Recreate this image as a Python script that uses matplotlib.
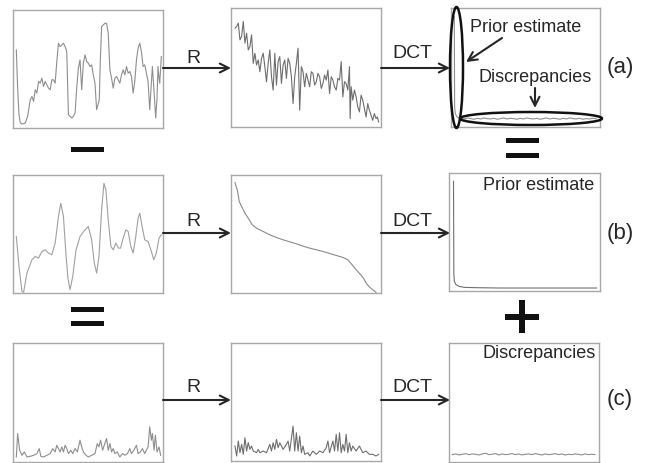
import matplotlib
matplotlib.use("Agg")
import matplotlib.pyplot as plt
from matplotlib.patches import Ellipse, Rectangle

plt.rcParams['font.family'] = ['Liberation Sans', 'DejaVu Sans']

# ---- signals (sample position, amplitude) ----
# row (a): original signal, reordered signal, its DCT
a1_t = [10, 14, 18, 22, 28, 37, 44, 52, 57, 62,
        67, 72, 77, 82, 87, 92, 97, 102, 107, 112,
        117, 122, 127, 132, 137, 142, 147, 152, 157, 162,
        167, 172, 177, 182, 187, 192, 197, 202, 207, 212,
        217, 222, 227, 232, 237, 242, 247, 252, 256, 260,
        263, 267, 272, 277, 282, 287, 292, 297, 302, 307,
        312, 317, 322, 327, 332, 337, 342, 347, 352, 357,
        362, 367, 372, 377, 382, 387, 392, 397, 402, 407,
        412, 416, 420, 425, 430, 434, 437, 440, 442, 445, 447]
a1_v = [235, 120, 40, 15, 12, 15, 35, 85, 95, 80,
        115, 105, 140, 135, 150, 125, 140, 130, 120, 115,
        145, 145, 135, 200, 255, 245, 250, 255, 245, 230,
        40, 35, 30, 35, 45, 120, 180, 205, 115, 195,
        220, 200, 195, 185, 190, 160, 135, 55, 70, 85,
        200, 305, 310, 315, 315, 285, 175, 150, 120, 150,
        155, 145, 135, 160, 175, 160, 185, 165, 170, 155,
        105, 140, 205, 240, 255, 230, 185, 190, 165, 140,
        55, 120, 185, 110, 30, 90, 185, 150, 135, 180, 215]

a2_t = [12, 17, 22, 27, 32, 37, 42, 47, 52, 57,
        62, 67, 72, 77, 82, 87, 92, 97, 102, 107,
        112, 117, 122, 127, 132, 137, 142, 147, 152, 157,
        162, 167, 172, 177, 182, 187, 192, 197, 202, 207,
        212, 217, 222, 227, 232, 237, 242, 247, 252, 257,
        262, 267, 272, 277, 282, 287, 292, 297, 302, 307,
        312, 317, 322, 327, 332, 337, 342, 347, 352, 357,
        359, 362, 367, 372, 377, 382, 387, 392, 397, 402,
        407, 412, 417, 422, 427, 432, 437, 441, 445]
a2_v = [295, 300, 310, 260, 270, 315, 250, 280, 230, 240,
        275, 190, 220, 185, 200, 165, 205, 220, 180, 135,
        190, 230, 150, 110, 220, 125, 195, 210, 130, 185,
        200, 145, 205, 190, 150, 70, 150, 190, 235, 50,
        180, 165, 120, 160, 140, 120, 165, 160, 125, 135,
        160, 150, 115, 130, 155, 140, 170, 100, 150, 140,
        120, 110, 145, 140, 195, 90, 135, 130, 110, 180,
        25, 120, 80, 110, 90, 60, 45, 95, 80, 55,
        30, 70, 50, 35, 20, 40, 25, 30, 15]

a3_t = [10, 11, 13, 18, 30, 40, 50, 60, 70, 80, 90, 100, 110, 120, 130,
        140, 150, 160, 170, 180, 190, 200, 210, 220, 230, 240, 250, 260,
        270, 280, 290, 300, 310, 320, 330, 340, 350, 360, 370, 380, 390,
        400, 410, 420, 430, 440]
a3_v = [330, 60, 40, 30, 26, 24, 27, 25, 23, 26, 24, 27, 25, 24, 26,
        23, 25, 27, 24, 26, 25, 23, 26, 24, 27, 25, 24, 26, 23, 25, 27,
        24, 26, 25, 23, 26, 24, 27, 25, 24, 26, 23, 25, 24, 26, 25]

# row (b): smooth prior, reordered prior, its DCT
b1_t = [10, 18, 27, 32, 42, 57, 67, 77, 87, 97,
        107, 117, 127, 137, 144, 152, 160, 166, 172, 180,
        190, 202, 217, 227, 237, 245, 252, 259, 267, 274,
        280, 287, 295, 302, 310, 318, 324, 332, 340, 347,
        355, 362, 370, 377, 382, 389, 397, 407, 417, 424,
        432, 440, 447]
b1_v = [170, 80, 5, 2, 60, 100, 110, 105, 125, 130,
        120, 115, 150, 230, 270, 230, 110, 40, 10, 50,
        130, 170, 190, 200, 160, 90, 60, 110, 250, 330,
        310, 220, 140, 130, 150, 135, 135, 165, 190, 185,
        140, 120, 170, 225, 240, 200, 160, 155, 125, 100,
        120, 165, 175]

b2_t = [12, 19, 25, 32, 42, 52, 64, 77, 97, 117, 137, 157, 177, 197, 217,
        237, 257, 277, 297, 317, 337, 352, 365, 377, 389, 399, 407, 417,
        427, 437]
b2_v = [332, 310, 275, 260, 240, 225, 205, 195, 185, 175, 167, 160, 154,
        148, 141, 135, 130, 125, 119, 113, 107, 100, 85, 70, 57, 45, 30,
        18, 10, 2]

b3_t = [13.5, 14.5, 16, 20, 30, 45, 80, 150, 250, 350, 442]
b3_v = [330, 50, 30, 20, 14, 11, 10, 9, 9, 9, 9]

# row (c): discrepancies, reordered discrepancies, their DCT
c1_t = [10, 14, 20, 27, 34, 42, 52, 62, 72, 79,
        84, 92, 102, 112, 120, 127, 132, 137, 142, 147,
        152, 157, 162, 167, 174, 180, 187, 194, 202, 207,
        212, 220, 227, 237, 247, 254, 259, 264, 270, 275,
        282, 287, 292, 297, 302, 307, 314, 322, 330, 337,
        345, 352, 357, 364, 372, 377, 384, 390, 397, 402,
        407, 412, 417, 420, 425, 429, 434, 440, 445]
c1_v = [15, 85, 35, 20, 30, 15, 17, 20, 25, 40,
        17, 15, 20, 25, 40, 30, 50, 40, 30, 45,
        30, 50, 40, 25, 35, 25, 40, 30, 65, 45,
        30, 20, 15, 20, 25, 55, 45, 65, 35, 50,
        70, 35, 55, 30, 40, 25, 30, 15, 25, 20,
        25, 40, 25, 35, 50, 25, 30, 40, 25, 35,
        45, 105, 65, 85, 35, 80, 30, 45, 20]

c2_t = [12, 17, 22, 27, 32, 37, 42, 47, 52, 57,
        62, 67, 77, 82, 87, 97, 107, 117, 122, 127,
        132, 137, 142, 147, 157, 167, 172, 177, 187, 192,
        197, 202, 207, 212, 217, 222, 232, 237, 247, 257,
        267, 277, 287, 292, 297, 307, 312, 317, 322, 327,
        332, 337, 342, 347, 352, 357, 362, 367, 377, 387,
        397, 407, 417, 427, 437, 445]
c2_v = [45, 15, 60, 25, 50, 20, 70, 30, 55, 35,
        45, 30, 25, 35, 25, 30, 25, 50, 30, 55,
        35, 65, 40, 55, 35, 50, 60, 30, 105, 30,
        85, 30, 75, 25, 45, 20, 25, 15, 30, 20,
        30, 25, 40, 60, 25, 60, 30, 80, 30, 85,
        25, 50, 30, 80, 25, 55, 30, 45, 30, 45,
        25, 30, 20, 20, 15, 20]

c3_t = [10, 20, 30, 40, 50, 60, 70, 80, 90, 100, 110, 120, 130, 140, 150,
        160, 170, 180, 190, 200, 210, 220, 230, 240, 250, 260, 270, 280,
        290, 300, 310, 320, 330, 340, 350, 360, 370, 380, 390, 400, 410,
        420, 430, 440]
c3_v = [22, 24, 21, 23, 25, 22, 24, 23, 21, 24,
        26, 22, 23, 25, 21, 24, 22, 23, 25, 22,
        24, 21, 23, 24, 22, 25, 23, 21, 24, 22,
        23, 25, 22, 24, 21, 23, 22, 24, 23, 21,
        24, 22, 23, 22]

row_labels = ['(a)', '(b)', '(c)']

# ---- layout (pixels) ----
W, H = 649, 463
fig = plt.figure(figsize=(W / 100, H / 100), dpi=100)
fig.patch.set_facecolor('white')


def panel(box, t, v, color='#8e8e8e'):
    x0, y0, x1, y1 = box
    ax = fig.add_axes([x0 / W, 1 - y1 / H, (x1 - x0) / W, (y1 - y0) / H])
    ax.plot(t, v, color=color, lw=0.8)
    ax.set_xlim(0, 452)
    ax.set_ylim(0, 355)
    ax.set_xticks([])
    ax.set_yticks([])
    for s in ax.spines.values():
        s.set_color('#a8a8a8')
        s.set_linewidth(1.0)
    return ax


panel((13, 10, 163, 128), a1_t, a1_v)
panel((231, 8, 381, 127), a2_t, a2_v, '#6e6e6e')
panel((451, 8, 600, 127), a3_t, a3_v)
panel((13, 175, 163, 293), b1_t, b1_v, '#a0a0a0')
panel((231, 175, 381, 293), b2_t, b2_v, '#8a8a8a')
panel((449, 173, 600, 291), b3_t, b3_v, '#707070')
panel((13, 343, 163, 462), c1_t, c1_v)
panel((231, 343, 381, 461), c2_t, c2_v, '#6e6e6e')
panel((449, 343, 599, 462), c3_t, c3_v)

# overlay in pixel coordinates
ov = fig.add_axes([0, 0, 1, 1])
ov.set_xlim(0, W)
ov.set_ylim(H, 0)
ov.axis('off')
ov.patch.set_alpha(0)

ink = '#262626'
arrow = dict(arrowstyle='->', lw=1.5, color=ink, shrinkA=0, shrinkB=0,
             mutation_scale=16)

for ya, yr, yd, lab in [(68, 58.5, 53, row_labels[0]),
                        (233, 221.5, 221, row_labels[1]),
                        (400, 388, 388, row_labels[2])]:
    ov.annotate('', xy=(231, ya), xytext=(163, ya), arrowprops=arrow)
    ov.annotate('', xy=(450, ya), xytext=(381, ya), arrowprops=arrow)
    ov.text(193.5, yr, 'R', ha='center', va='center', fontsize=14, color=ink)
    ov.text(412, yd, 'DCT', ha='center', va='center', fontsize=14, color=ink)
    ov.text(620, ya, lab, ha='center', va='center', fontsize=16, color=ink)

# annotations in panel (a)
ov.text(526, 28, 'Prior estimate', ha='center', va='center', fontsize=13, color=ink)
ov.text(535.5, 77, 'Discrepancies', ha='center', va='center', fontsize=13, color=ink)
ov.annotate('', xy=(466, 62), xytext=(502, 38), arrowprops=arrow)
ov.annotate('', xy=(535, 108), xytext=(535, 88), arrowprops=arrow)
ov.add_patch(Ellipse((456.5, 67.5), 13, 121, fill=False, lw=1.8, ec='#111'))
ov.add_patch(Ellipse((531, 118.5), 142, 13, fill=False, lw=1.8, ec='#111'))

ov.text(594, 185, 'Prior estimate', ha='right', va='center', fontsize=13, color=ink)
ov.text(596, 354, 'Discrepancies', ha='right', va='center', fontsize=13, color=ink)

# operators: minus, equals, equals, plus
bar = dict(color='#111', lw=0)
ov.add_patch(Rectangle((71, 147), 33, 5, **bar))
ov.add_patch(Rectangle((506, 138), 33, 5, **bar))
ov.add_patch(Rectangle((506, 153), 33, 5, **bar))
ov.add_patch(Rectangle((71, 307), 33, 5, **bar))
ov.add_patch(Rectangle((71, 321), 33, 5, **bar))
ov.add_patch(Rectangle((519, 300), 6, 33, **bar))
ov.add_patch(Rectangle((505, 314), 34, 5.5, **bar))

fig.savefig('out.png', dpi=100, facecolor='white')
